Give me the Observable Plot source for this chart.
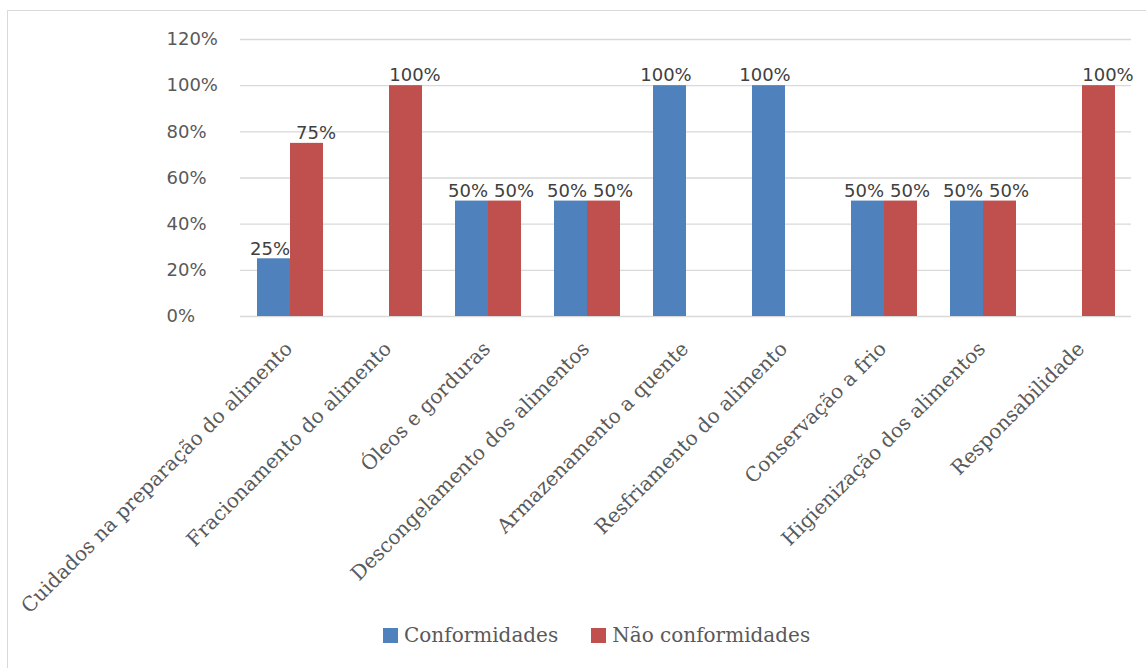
<!DOCTYPE html>
<html>
<head>
<meta charset="utf-8">
<script src="https://cdn.jsdelivr.net/npm/d3@7"></script>
<script src="https://cdn.jsdelivr.net/npm/@observablehq/plot@0.6"></script>
<style>
  html, body { margin: 0; padding: 0; background: #fff; }
  #wrap { position: relative; width: 1146px; height: 668px; overflow: hidden; }
  #frame { position: absolute; left: 7px; top: 10px; right: -5px; bottom: -5px; border: 1px solid #d9d9d9; }
  #chart { position: absolute; left: 0; top: 0; }
  #legend { position: absolute; top: 623px; left: 383px; display: flex; align-items: center;
            font-family: "DejaVu Serif", serif; font-size: 20px; color: #595959; }
  #legend .item { display: flex; align-items: center; margin-right: 33px; }
  #legend .sw { width: 15px; height: 15px; margin-right: 6px; }
</style>
</head>
<body>
<div id="wrap">
  <div id="frame"></div>
  <div id="chart"></div>
  <div id="legend"></div>
</div>
<script>
const categories = [
  "Cuidados na preparação do alimento",
  "Fracionamento do alimento",
  "Óleos e gorduras",
  "Descongelamento dos alimentos",
  "Armazenamento a quente",
  "Resfriamento do alimento",
  "Conservação a frio",
  "Higienização dos alimentos",
  "Responsabilidade"
];
const series = ["Conformidades", "Não conformidades"];
const conformidades    = [0.25, 0, 0.5, 0.5, 1, 1, 0.5, 0.5, 0];
const naoConformidades = [0.75, 1, 0.5, 0.5, 0, 0, 0.5, 0.5, 1];
const colors = ["#4F81BD", "#C0504D"];
const yTicks = [0, 0.2, 0.4, 0.6, 0.8, 1.0, 1.2];

const rows = [];
categories.forEach((c, i) => {
  rows.push({categoria: c, serie: series[0], valor: conformidades[i]});
  rows.push({categoria: c, serie: series[1], valor: naoConformidades[i]});
});
const labeled = rows.filter(d => d.valor > 0);
const pct = d3.format(".0%");

const plot = Plot.plot({
  width: 1146,
  height: 622,
  marginLeft: 237,
  marginRight: 13,
  marginTop: 39,
  marginBottom: 306,
  style: {fontFamily: "DejaVu Sans, sans-serif", background: "transparent"},
  fx: {domain: categories, padding: 0, axis: null},
  x: {domain: series, paddingInner: 0, paddingOuter: 0.5, axis: null},
  y: {domain: [0, 1.2], axis: null},
  color: {domain: series, range: colors},
  marks: [
    Plot.ruleY(yTicks, {stroke: "#d9d9d9", strokeWidth: 1.3}),
    Plot.axisY({
      ticks: yTicks, tickFormat: pct, tickSize: 0, tickPadding: 74, label: null,
      textAnchor: "start", fontSize: 18, fill: "#595959", letterSpacing: 1
    }),
    Plot.barY(rows, {fx: "categoria", x: "serie", y: "valor", fill: "serie"}),
    Plot.text(labeled.filter(d => d.serie === series[0]), {
      fx: "categoria", x: "serie", y: "valor", text: d => pct(d.valor),
      dy: -10, dx: -4, fontSize: 18, fill: "#404040", letterSpacing: 1
    }),
    Plot.text(labeled.filter(d => d.serie === series[1]), {
      fx: "categoria", x: "serie", y: "valor", text: d => pct(d.valor),
      dy: -10, dx: 9, fontSize: 18, fill: "#404040", letterSpacing: 1
    }),
    Plot.text(categories, {
      fx: d => d, text: d => d, frameAnchor: "bottom",
      rotate: -45, textAnchor: "end", lineAnchor: "middle",
      dx: -1, dy: 29, fontSize: 20, fill: "#595959",
      fontFamily: "DejaVu Serif, serif"
    })
  ]
});
document.getElementById("chart").appendChild(plot);

const legend = document.getElementById("legend");
series.forEach((s, i) => {
  const item = document.createElement("div");
  item.className = "item";
  const sw = document.createElement("span");
  sw.className = "sw";
  sw.style.background = colors[i];
  const label = document.createElement("span");
  label.textContent = s;
  item.appendChild(sw);
  item.appendChild(label);
  legend.appendChild(item);
});
</script>
</body>
</html>
